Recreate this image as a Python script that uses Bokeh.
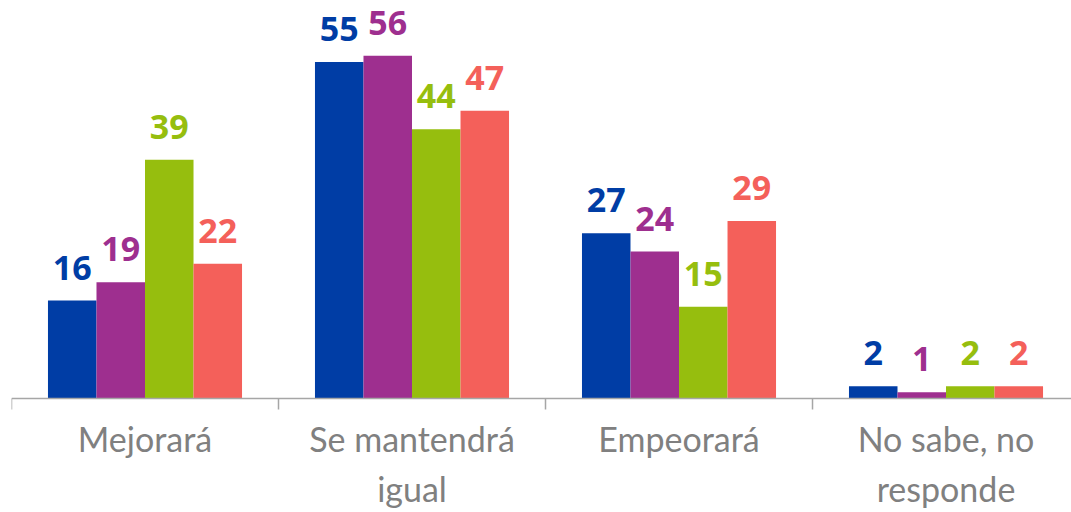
from bokeh.plotting import figure
from bokeh.models import ColumnDataSource, Range1d, LabelSet, Span
from bokeh.core.properties import value
from bokeh.transform import dodge
from bokeh.embed import file_html
from bokeh.resources import INLINE

categories = ["Mejorará", "Se mantendrá\nigual", "Empeorará", "No sabe, no\nresponde"]
serie_1 = [16, 55, 27, 2]
serie_2 = [19, 56, 24, 1]
serie_3 = [39, 44, 15, 2]
serie_4 = [22, 47, 29, 2]
series = [serie_1, serie_2, serie_3, serie_4]
colors = ["#003DA5", "#9E2F8F", "#96BE0E", "#F4605A"]
boundaries = [0, 1, 2, 3, 4]

centers = [i + 0.5 for i in range(len(categories))]
bar_w = 0.1817
offsets = [-1.5 * bar_w, -0.5 * bar_w, 0.5 * bar_w, 1.5 * bar_w]

p = figure(width=1071, height=512, output_backend="svg", toolbar_location=None,
           x_range=Range1d(0, 3.970), y_range=Range1d(-18.63, 65.03),
           x_axis_location=None, y_axis_location=None,
           min_border_left=11, min_border_right=0, min_border_top=0, min_border_bottom=0)
p.outline_line_color = None
p.grid.visible = False
p.background_fill_color = "white"
p.border_fill_color = "white"

for vals, col, off in zip(series, colors, offsets):
    src = ColumnDataSource(dict(x=centers, y=vals, lbl=[str(v) for v in vals]))
    p.vbar(x=dodge("x", off, range=p.x_range), top="y", width=bar_w, source=src,
           fill_color=col, line_color=None)
    lab = LabelSet(x=dodge("x", off, range=p.x_range), y="y", text="lbl", source=src,
                   text_align="center", text_baseline="alphabetic", y_offset=21,
                   text_font=value("Open Sans"), text_font_style="bold",
                   text_font_size="34px", text_color=col)
    p.add_layout(lab)

# baseline axis and category separators
p.add_layout(Span(location=0, dimension="width", line_color="#A6A6A6", line_width=1.5))
p.segment(x0=boundaries, y0=[0] * len(boundaries), x1=boundaries, y1=[-1.8] * len(boundaries),
          line_color="#A6A6A6", line_width=1.5)

# category labels
p.text(x=centers, y=[0] * len(categories), text=categories, y_offset=20,
       text_align="center", text_baseline="top", text_font=value("Lato"),
       text_font_size="34px", text_color="#808080", text_line_height=1.22)

open("out.html", "w").write(file_html(p, INLINE))
